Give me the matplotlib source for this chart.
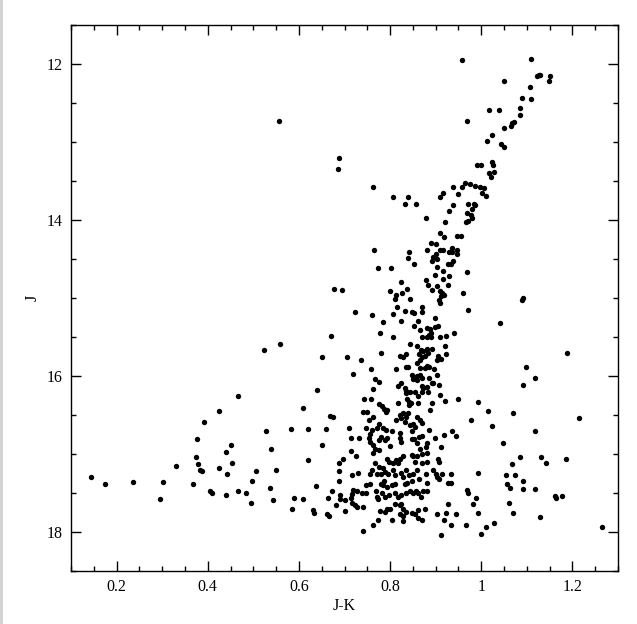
import matplotlib
matplotlib.use("Agg")
import matplotlib.pyplot as plt
from matplotlib.lines import Line2D
from matplotlib.ticker import MultipleLocator

# J-K colour and J magnitude
jk_rgb = [0.957, 1.109, 1.123, 1.127, 1.129, 1.151, 1.148, 1.050, 1.107, 1.109, 1.089, 1.086, 1.084, 1.016, 1.038,
          0.968, 1.049, 1.065, 1.067, 1.071, 1.023, 1.013, 1.043, 1.049, 0.990, 0.999, 1.023, 1.026, 1.028, 1.018,
          1.021, 0.964, 0.975, 0.986, 0.997, 1.006, 0.937, 0.957, 0.950, 0.915, 0.909, 1.001, 1.010, 0.971, 0.984,
          0.986, 0.937, 0.929, 0.979, 0.968, 0.977, 0.979, 0.556, 0.687, 0.685, 0.762, 0.806, 0.839, 0.832, 0.856,
          0.878, 0.764, 0.841, 0.839, 0.852, 0.773, 0.803, 0.882]
j_rgb = [11.95, 11.93, 12.15, 12.14, 12.14, 12.15, 12.22, 12.22, 12.29, 12.45, 12.43, 12.56, 12.66, 12.59, 12.59,
         12.73, 12.82, 12.80, 12.76, 12.74, 12.91, 12.99, 13.02, 13.06, 13.29, 13.29, 13.26, 13.29, 13.38, 13.40,
         13.45, 13.53, 13.54, 13.56, 13.58, 13.59, 13.58, 13.58, 13.67, 13.66, 13.71, 13.66, 13.69, 13.79, 13.79,
         13.81, 13.81, 13.88, 13.86, 13.91, 13.93, 13.98, 12.73, 13.20, 13.34, 13.58, 13.70, 13.71, 13.80, 13.79,
         13.97, 14.38, 14.41, 14.49, 14.56, 14.61, 14.62, 14.38]

jk_mid = [0.920, 0.966, 0.970, 0.909, 0.918, 0.947, 0.955, 0.890, 0.901, 0.909, 0.917, 0.929, 0.936, 0.936, 0.946,
          0.947, 0.895, 0.901, 0.904, 0.893, 0.928, 0.933, 0.937, 0.903, 0.915, 0.969, 0.899, 0.929, 0.915, 0.879,
          0.884, 0.904, 0.926, 0.892, 0.909, 0.914, 0.918, 0.911, 0.907, 0.909, 0.823, 0.800, 0.814, 0.811, 0.827,
          0.837, 0.844, 0.959, 0.677, 0.694, 0.970, 0.871, 0.871, 0.898, 0.815, 0.833, 0.847, 0.852, 0.806, 0.760,
          0.723, 0.784, 0.824, 0.861, 0.852, 0.880, 0.887, 0.899, 0.906, 0.866, 0.889, 0.871, 0.881, 0.885, 0.890,
          0.909, 0.923, 0.940, 0.778, 0.807, 0.671, 0.844, 0.860, 0.867, 0.864, 0.873, 0.880, 0.884, 0.891, 0.871,
          0.876, 0.860, 0.866, 0.906, 0.911, 0.904, 0.921, 0.923, 0.822, 0.828, 0.834, 0.779, 0.705, 0.736, 0.835,
          0.839, 0.866, 0.880, 0.886, 0.896, 0.758, 0.812, 0.523, 0.558, 0.650, 0.639, 0.608, 0.466]
j_mid = [14.02, 14.03, 14.01, 14.17, 14.22, 14.21, 14.20, 14.30, 14.31, 14.38, 14.38, 14.41, 14.41, 14.36, 14.38,
         14.44, 14.47, 14.44, 14.50, 14.52, 14.57, 14.56, 14.53, 14.60, 14.65, 14.67, 14.71, 14.72, 14.75, 14.77,
         14.83, 14.84, 14.83, 14.90, 14.91, 14.93, 14.96, 14.98, 15.03, 15.07, 14.79, 14.91, 14.96, 15.01, 14.93,
         14.89, 15.01, 14.93, 14.89, 14.90, 15.15, 15.11, 15.18, 15.26, 15.11, 15.17, 15.18, 15.19, 15.21, 15.22,
         15.18, 15.31, 15.29, 15.30, 15.36, 15.38, 15.40, 15.37, 15.36, 15.41, 15.45, 15.50, 15.50, 15.47, 15.50,
         15.50, 15.49, 15.45, 15.45, 15.50, 15.49, 15.59, 15.62, 15.67, 15.72, 15.68, 15.66, 15.71, 15.65, 15.75,
         15.74, 15.83, 15.79, 15.74, 15.78, 15.79, 15.61, 15.72, 15.74, 15.76, 15.72, 15.71, 15.76, 15.79, 15.89,
         15.88, 15.90, 15.87, 15.88, 15.91, 15.91, 15.91, 15.67, 15.59, 15.76, 16.18, 16.41, 16.26]

jk_sgb = [0.719, 0.876, 0.902, 0.848, 0.858, 0.866, 0.851, 0.860, 0.869, 0.885, 0.895, 0.907, 0.767, 0.776, 0.823,
          0.818, 0.833, 0.836, 0.835, 0.844, 0.855, 0.869, 0.873, 0.880, 0.869, 0.884, 0.892, 0.762, 0.743, 0.758,
          0.776, 0.782, 0.787, 0.790, 0.794, 0.741, 0.749, 0.763, 0.754, 0.817, 0.838, 0.842, 0.846, 0.841, 0.862,
          0.861, 0.891, 0.888, 0.909, 0.920, 0.948, 0.993, 0.829, 0.822, 0.824, 0.836, 0.840, 0.814, 0.833, 0.844,
          0.860, 0.866, 0.871, 0.851, 0.855, 0.848, 0.776, 0.771, 0.785, 0.791, 0.804, 0.747, 0.710, 0.761, 0.757,
          0.754, 0.756, 0.762, 0.776, 0.779, 0.789, 0.794, 0.800, 0.821, 0.822, 0.824, 0.848, 0.852, 0.864, 0.869,
          0.860, 0.866, 0.886, 0.898, 0.918, 0.935, 0.944, 0.880, 0.878, 0.880, 0.869, 0.848, 0.851, 0.828, 0.822,
          0.793, 0.762, 0.767, 0.776, 0.714, 0.732, 0.714, 0.725, 0.697, 0.668, 0.674, 0.977, 0.912, 0.906]
j_sgb = [15.98, 15.90, 15.99, 15.99, 16.00, 15.99, 16.04, 16.05, 16.02, 16.03, 16.09, 16.11, 16.04, 16.08, 16.09,
         16.13, 16.16, 16.19, 16.22, 16.20, 16.20, 16.13, 16.16, 16.14, 16.21, 16.20, 16.09, 16.17, 16.29, 16.29,
         16.36, 16.39, 16.42, 16.46, 16.44, 16.46, 16.46, 16.52, 16.56, 16.35, 16.30, 16.33, 16.35, 16.37, 16.26,
         16.35, 16.34, 16.43, 16.24, 16.32, 16.30, 16.33, 16.48, 16.50, 16.54, 16.53, 16.47, 16.56, 16.59, 16.63,
         16.53, 16.56, 16.60, 16.61, 16.65, 16.70, 16.61, 16.67, 16.67, 16.69, 16.71, 16.67, 16.67, 16.69, 16.74,
         16.79, 16.84, 16.88, 16.82, 16.78, 16.82, 16.79, 16.90, 16.73, 16.79, 16.84, 16.81, 16.81, 16.78, 16.77,
         16.86, 16.93, 16.69, 16.80, 16.76, 16.71, 16.77, 16.86, 16.91, 16.99, 17.00, 17.01, 17.03, 17.03, 17.06,
         17.06, 16.99, 16.94, 16.95, 16.79, 16.79, 16.96, 17.03, 17.06, 16.51, 16.53, 16.57, 16.91, 17.06]

jk_ms = [0.798, 0.807, 0.814, 0.818, 0.855, 0.860, 0.869, 0.882, 0.908, 0.767, 0.776, 0.785, 0.789, 0.779, 0.771,
         0.760, 0.757, 0.796, 0.807, 0.811, 0.825, 0.836, 0.842, 0.850, 0.860, 0.864, 0.848, 0.838, 0.833, 0.829,
         0.811, 0.804, 0.793, 0.785, 0.787, 0.779, 0.756, 0.747, 0.729, 0.716, 0.878, 0.880, 0.895, 0.901, 0.904,
         0.908, 0.913, 0.933, 0.928, 0.933, 0.993, 0.690, 0.701, 0.716, 0.719, 0.728, 0.738, 0.747, 0.714, 0.716,
         0.723, 0.727, 0.741, 0.701, 0.769, 0.771, 0.774, 0.782, 0.789, 0.798, 0.811, 0.818, 0.823, 0.836, 0.844,
         0.850, 0.857, 0.862, 0.867, 0.873, 0.880, 0.778, 0.789, 0.793, 0.800, 0.811, 0.822, 0.825, 0.829, 0.836,
         0.848, 0.855, 0.862, 0.876, 0.822, 0.828, 0.862, 0.869, 0.774, 0.763, 0.804, 0.828, 0.741, 0.902, 0.923,
         0.926, 0.944, 0.918, 0.933, 0.968, 0.972, 0.988, 0.981, 0.993, 0.966, 0.912]
j_ms = [17.10, 17.12, 17.08, 17.11, 17.10, 17.03, 17.11, 17.10, 17.10, 17.12, 17.17, 17.18, 17.23, 17.25, 17.26,
        17.21, 17.25, 17.26, 17.21, 17.27, 17.24, 17.21, 17.27, 17.25, 17.21, 17.32, 17.35, 17.37, 17.38, 17.30,
        17.38, 17.40, 17.42, 17.40, 17.35, 17.38, 17.38, 17.40, 17.24, 17.27, 17.25, 17.37, 17.21, 17.26, 17.30,
        17.32, 17.26, 17.25, 17.37, 17.37, 17.24, 17.53, 17.59, 17.51, 17.46, 17.48, 17.50, 17.50, 17.57, 17.63,
        17.65, 17.68, 17.68, 17.73, 17.48, 17.55, 17.58, 17.50, 17.55, 17.53, 17.50, 17.55, 17.53, 17.50, 17.48,
        17.50, 17.48, 17.50, 17.55, 17.48, 17.47, 17.73, 17.74, 17.71, 17.70, 17.64, 17.65, 17.64, 17.71, 17.74,
        17.75, 17.77, 17.72, 17.71, 17.77, 17.80, 17.82, 17.85, 17.85, 17.91, 17.84, 17.86, 17.99, 17.77, 17.75,
        17.64, 17.77, 17.85, 17.91, 17.46, 17.50, 17.57, 17.64, 17.75, 17.91, 18.04]

jk_blue = [0.144, 0.175, 0.236, 0.301, 0.295, 0.330, 0.367, 0.376, 0.391, 0.424, 0.374, 0.378, 0.383, 0.388, 0.405,
           0.409, 0.424, 0.528, 0.582, 0.619, 0.659, 0.451, 0.440, 0.538, 0.650, 0.453, 0.621, 0.442, 0.505, 0.550,
           0.496, 0.440, 0.466, 0.484, 0.537, 0.494, 0.543, 0.589, 0.608, 0.637, 0.672, 0.663, 0.585, 0.630, 0.633,
           0.661, 0.666, 0.681, 0.689, 0.689, 0.689, 0.690]
j_blue = [17.30, 17.39, 17.36, 17.36, 17.58, 17.16, 17.38, 16.81, 16.59, 16.45, 17.04, 17.13, 17.21, 17.22, 17.48,
          17.50, 17.18, 16.71, 16.68, 16.68, 16.68, 16.89, 16.97, 16.94, 16.88, 17.11, 17.08, 17.26, 17.22, 17.21,
          17.34, 17.53, 17.48, 17.50, 17.43, 17.63, 17.59, 17.56, 17.58, 17.41, 17.47, 17.56, 17.70, 17.72, 17.76,
          17.77, 17.79, 17.66, 17.11, 17.22, 17.35, 17.58]

jk_red = [1.089, 1.091, 1.041, 1.189, 1.098, 1.118, 1.091, 1.014, 1.069, 1.214, 1.023, 1.118, 1.047, 1.084, 1.132,
          1.142, 1.186, 1.067, 1.054, 1.073, 1.056, 1.064, 1.091, 1.091, 1.118, 1.162, 1.164, 1.178, 1.060, 1.069,
          1.128, 1.010, 1.027, 0.999, 1.265]
j_red = [15.03, 15.00, 15.32, 15.71, 15.89, 16.03, 16.12, 16.45, 16.47, 16.54, 16.64, 16.71, 16.86, 17.04, 17.04,
         17.11, 17.06, 17.13, 17.27, 17.27, 17.38, 17.43, 17.35, 17.45, 17.45, 17.54, 17.57, 17.54, 17.63, 17.76,
         17.81, 17.93, 17.88, 18.03, 17.94]

jk = jk_rgb + jk_mid + jk_sgb + jk_ms + jk_blue + jk_red
jmag = j_rgb + j_mid + j_sgb + j_ms + j_blue + j_red

plt.rcParams['font.family'] = ['Liberation Serif', 'DejaVu Serif']

fig = plt.figure(figsize=(6.37, 6.24), dpi=100)
ax = fig.add_axes([71 / 637, 1 - 571 / 624, 547 / 637, 546 / 624])

ax.scatter(jk, jmag, s=15, c='black', marker='o', linewidths=0)

ax.set_xlim(0.1, 1.3)
ax.set_ylim(18.5, 11.5)
ax.xaxis.set_major_locator(MultipleLocator(0.2))
ax.xaxis.set_minor_locator(MultipleLocator(0.05))
ax.yaxis.set_major_locator(MultipleLocator(2))
ax.yaxis.set_minor_locator(MultipleLocator(0.5))
ax.tick_params(which='both', direction='in', top=True, right=True, width=1, labelsize=11.5, pad=6)
ax.tick_params(which='major', length=7)
ax.tick_params(which='minor', length=3.6)
ax.xaxis.set_major_formatter(plt.FuncFormatter(lambda v, p: f'{v:g}'))
for sp in ax.spines.values():
    sp.set_linewidth(1)

ax.set_xlabel('J-K', fontsize=11.5, labelpad=2)
ax.set_ylabel('J', fontsize=11.5, labelpad=4)

# faint grey edge along the left side of the frame, as in the screenshot
fig.add_artist(Line2D([0.002, 0.002], [0, 1], transform=fig.transFigure, color='#d0d0d0', lw=2))

fig.savefig('out.png', dpi=100)
